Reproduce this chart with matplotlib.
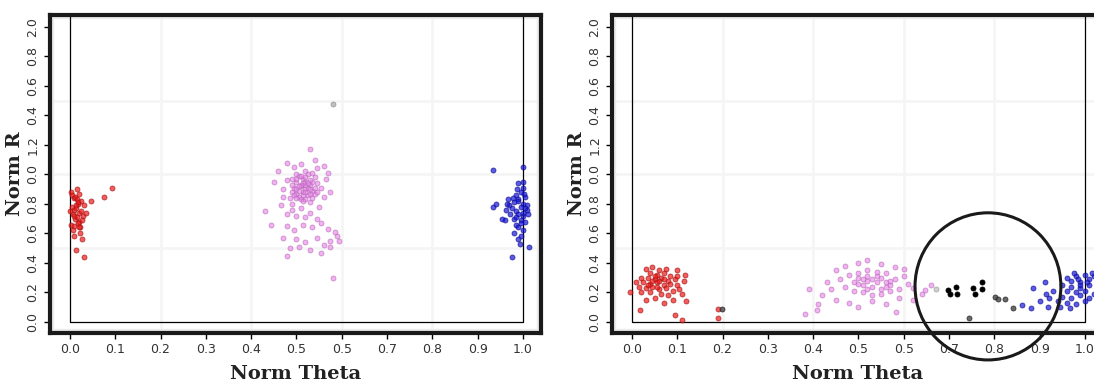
import matplotlib
matplotlib.use('Agg')
import matplotlib.pyplot as plt
from matplotlib.patches import Ellipse, Rectangle

# Tick labels as printed in the figure
x_ticks = [0.0, 0.1, 0.2, 0.3, 0.4, 0.5, 0.6, 0.7, 0.8, 0.9, 1.0]
x_labels = ['0.0', '0.1', '0.2', '0.3', '0.4', '0.5', '0.5', '0.7', '0.8', '0.9', '1.0']
y_ticks = [0.0, 0.2, 0.4, 0.6, 0.8, 1.0, 1.2, 1.4, 1.6, 1.8, 2.0]
y_labels = ['0.0', '0.2', '0.4', '0.6', '0.8', '0.0', '1.2', '0.4', '0.6', '0.8', '2.0']

# Left panel
red_l_x = [0.002, 0.005, 0.008, 0.012, 0.015, 0.018, 0.02, 0.025, 0.03, 0.004, 0.009, 0.014, 0.019, 0.024,
           0.028, 0.006, 0.011, 0.016, 0.021, 0.026, 0.003, 0.01, 0.017, 0.022, 0.007, 0.013, 0.018, 0.001,
           0.008, 0.015, 0.092, 0.076, 0.046, 0.035, 0.026, 0.009, 0.013, 0.031, 0.022, 0.02]
red_l_y = [0.88, 0.86, 0.84, 0.85, 0.83, 0.8, 0.87, 0.82, 0.79, 0.78, 0.76, 0.77, 0.74, 0.75,
           0.72, 0.73, 0.7, 0.71, 0.68, 0.69, 0.66, 0.65, 0.67, 0.64, 0.62, 0.79, 0.81, 0.75,
           0.72, 0.9, 0.91, 0.85, 0.82, 0.74, 0.56, 0.585, 0.49, 0.44, 0.6, 0.64]

pink_l_x = [0.51, 0.50, 0.52, 0.53, 0.49, 0.505, 0.515, 0.525, 0.495, 0.535,
            0.50, 0.52, 0.54, 0.48, 0.51, 0.53, 0.49, 0.545, 0.47, 0.555,
            0.50, 0.52, 0.515, 0.505, 0.535, 0.485, 0.525, 0.545, 0.495, 0.51,
            0.54, 0.53, 0.56, 0.48, 0.46, 0.45, 0.565, 0.57, 0.47, 0.465,
            0.49, 0.51, 0.53, 0.55, 0.52, 0.50, 0.48, 0.545, 0.56, 0.575,
            0.43, 0.445, 0.48, 0.495, 0.515, 0.535, 0.555, 0.57, 0.585, 0.50,
            0.52, 0.545, 0.56, 0.575, 0.59, 0.47, 0.485, 0.505, 0.53, 0.555,
            0.575, 0.595, 0.48, 0.52, 0.50, 0.515, 0.53, 0.54, 0.49, 0.52, 0.58,
            0.505, 0.525, 0.515, 0.535, 0.50, 0.52, 0.51, 0.53, 0.495, 0.54,
            0.515, 0.505, 0.525, 0.51, 0.52, 0.50, 0.53, 0.545, 0.49, 0.535]
pink_l_y = [0.92, 0.95, 0.90, 0.93, 0.88, 0.85, 0.97, 0.86, 0.91, 0.89,
            1.00, 1.02, 0.98, 0.96, 0.83, 0.81, 0.80, 0.94, 0.90, 0.91,
            0.87, 0.95, 0.88, 0.99, 0.84, 0.84, 1.00, 1.04, 1.05, 1.07,
            1.10, 1.17, 1.06, 1.08, 1.02, 0.95, 0.97, 1.01, 0.85, 0.79,
            0.76, 0.77, 0.74, 0.78, 0.71, 0.72, 0.73, 0.70, 0.85, 0.88,
            0.75, 0.66, 0.65, 0.62, 0.66, 0.64, 0.67, 0.63, 0.61, 0.56,
            0.54, 0.57, 0.52, 0.55, 0.58, 0.57, 0.50, 0.51, 0.49, 0.47,
            0.51, 0.55, 0.45, 0.93, 0.90, 0.94, 0.87, 0.91, 0.93, 0.83, 0.30,
            0.89, 0.91, 0.86, 0.95, 0.97, 0.88, 0.93, 0.96, 0.86, 0.87,
            0.82, 0.92, 0.94, 0.99, 0.98, 0.84, 0.90, 0.88, 0.97, 1.01]

blue_l_x = [0.99, 1.0, 0.995, 0.985, 1.005, 0.99, 0.98, 1.0, 0.995, 0.975, 1.008, 0.985, 0.99, 1.0,
            0.98, 0.995, 1.005, 0.985, 0.99, 1.0, 0.98, 0.995, 0.99, 1.002, 0.978, 1.01, 0.97, 1.012,
            0.972, 0.988, 1.0, 0.965, 0.962, 0.934, 1.0, 0.967, 0.934, 0.94, 0.96, 0.955, 0.977,
            1.013, 0.993, 0.99, 1.0, 0.985, 0.995, 1.005]
blue_l_y = [0.94, 0.91, 0.88, 0.86, 0.85, 0.83, 0.81, 0.80, 0.78, 0.77, 0.76, 0.75, 0.73, 0.72,
            0.70, 0.69, 0.68, 0.66, 0.64, 0.62, 0.60, 0.58, 0.56, 0.87, 0.84, 0.79, 0.79, 0.73,
            0.73, 0.90, 0.95, 0.80, 0.76, 1.03, 1.05, 0.83, 0.78, 0.80, 0.69, 0.70, 0.44,
            0.51, 0.53, 0.82, 0.74, 0.71, 0.67, 0.77]

gray_l_x = [0.58]
gray_l_y = [1.48]

# Right panel
red_r_x = [0.03, 0.045, 0.06, 0.075, 0.04, 0.055, 0.07, 0.085, 0.02, 0.035, 0.05, 0.065, 0.08, 0.095,
           0.025, 0.04, 0.055, 0.07, 0.085, 0.1, 0.015, 0.03, 0.045, 0.06, 0.075, 0.09, 0.105, 0.02,
           0.04, 0.065, 0.08, 0.05, 0.06, 0.045, 0.07, 0.035, 0.055, 0.01, 0.115, 0.1,
           -0.004, 0.018, 0.095, 0.11, 0.19, 0.19, 0.12, 0.099, 0.117, 0.05, 0.07, 0.09, 0.03, 0.11]
red_r_y = [0.36, 0.37, 0.35, 0.36, 0.33, 0.32, 0.33, 0.31, 0.30, 0.30, 0.29, 0.30, 0.28, 0.29,
           0.27, 0.26, 0.27, 0.25, 0.26, 0.25, 0.24, 0.23, 0.24, 0.22, 0.23, 0.21, 0.22, 0.20,
           0.20, 0.19, 0.18, 0.31, 0.28, 0.28, 0.29, 0.25, 0.24, 0.27, 0.28, 0.31,
           0.205, 0.08, 0.05, 0.015, 0.09, 0.03, 0.14, 0.35, 0.32, 0.16, 0.13, 0.15, 0.15, 0.19]

pink_r_x = [0.5, 0.52, 0.54, 0.56, 0.51, 0.53, 0.55, 0.57, 0.49, 0.58, 0.5, 0.52, 0.54, 0.56, 0.48,
            0.6, 0.47, 0.49, 0.51, 0.53, 0.55, 0.57, 0.59, 0.61, 0.62, 0.46, 0.45, 0.47, 0.5, 0.52,
            0.55, 0.58, 0.6, 0.44, 0.43, 0.42, 0.45, 0.48, 0.5, 0.53, 0.56, 0.59, 0.62, 0.64, 0.41,
            0.39, 0.382, 0.408, 0.584, 0.647, 0.66, 0.52, 0.54, 0.53, 0.55, 0.51, 0.57, 0.5, 0.52, 0.56]
pink_r_y = [0.30, 0.28, 0.31, 0.27, 0.25, 0.24, 0.22, 0.25, 0.27, 0.29, 0.33, 0.35, 0.34, 0.33, 0.32,
            0.31, 0.24, 0.21, 0.20, 0.18, 0.19, 0.21, 0.22, 0.26, 0.23, 0.29, 0.35, 0.38, 0.40, 0.42,
            0.39, 0.37, 0.36, 0.22, 0.27, 0.18, 0.15, 0.13, 0.10, 0.14, 0.12, 0.16, 0.15, 0.19, 0.12,
            0.22, 0.054, 0.08, 0.07, 0.217, 0.25, 0.31, 0.27, 0.29, 0.30, 0.29, 0.28, 0.26, 0.22, 0.24]

black_r_x = [0.698, 0.702, 0.715, 0.717, 0.753, 0.757, 0.772, 0.773]
black_r_y = [0.217, 0.19, 0.24, 0.19, 0.23, 0.19, 0.27, 0.22]

dgray_r_x = [0.801, 0.809, 0.823, 0.842, 0.744, 0.199]
dgray_r_y = [0.17, 0.156, 0.154, 0.093, 0.03, 0.09]

lgray_r_x = [0.672]
lgray_r_y = [0.22]

blue_r_x = [0.96, 0.98, 1.0, 1.02, 0.97, 0.99, 1.01, 1.03, 0.95, 0.97, 0.99, 1.01, 1.03, 0.96, 0.98,
            1.0, 1.02, 0.95, 0.97, 0.99, 1.01, 0.94, 0.96, 0.98, 1.0, 0.985, 1.005, 0.975, 1.015, 0.99,
            0.886, 0.912, 0.915, 0.861, 0.882, 0.90, 0.919, 0.945, 0.967, 0.93, 0.92]
blue_r_y = [0.30, 0.31, 0.32, 0.31, 0.28, 0.27, 0.29, 0.28, 0.25, 0.24, 0.23, 0.25, 0.24, 0.21, 0.20,
            0.21, 0.19, 0.17, 0.16, 0.18, 0.16, 0.14, 0.13, 0.12, 0.14, 0.29, 0.27, 0.33, 0.33, 0.25,
            0.23, 0.27, 0.19, 0.115, 0.093, 0.14, 0.104, 0.104, 0.093, 0.21, 0.16]

RED = '#f01818'
PINK = '#e680e6'
BLUE = '#1515d8'

fig = plt.figure(figsize=(10.94, 3.87), dpi=100)
W, H = 1094, 387
ax1 = fig.add_axes([50 / W, 54 / H, 491 / W, 318 / H])
ax2 = fig.add_axes([612 / W, 54 / H, 491 / W, 318 / H])


def style(ax):
    ax.set_xlim(-0.044, 1.04)
    ax.set_ylim(-0.075, 2.08)
    for gx in [0.2, 0.4, 0.6, 0.8]:
        ax.axvline(gx, color='#f5f5f5', lw=2, zorder=0)
    for gy in [0.5, 1.0, 1.5]:
        ax.axhline(gy, color='#f5f5f5', lw=2, zorder=0)
    ax.add_patch(Rectangle((0, 0), 1, 1, transform=ax.transAxes, fill=False,
                           edgecolor='#ebebeb', lw=6, zorder=1))
    ax.plot([0, 0, 1, 1], [2.08, 0, 0, 2.08], color='black', lw=0.9, zorder=2)
    for s in ax.spines.values():
        s.set_linewidth(3)
        s.set_color('#1a1a1a')
    ax.set_xticks(x_ticks)
    ax.set_xticklabels(x_labels, fontsize=9, color='#333333')
    ax.set_yticks(y_ticks)
    ax.set_yticklabels(y_labels, fontsize=9, color='#333333', rotation=90, va='center')
    ax.tick_params(direction='out', length=4, width=1)
    ax.set_xlabel('Norm Theta', fontsize=14, fontweight='bold', family='DejaVu Serif',
                  color='#222222', labelpad=6)
    ax.set_ylabel('Norm R', fontsize=14, fontweight='bold', family='DejaVu Serif',
                  color='#222222', labelpad=2)


def dots(ax, x, y, c, ec, a=0.7):
    ax.scatter(x, y, s=13, c=c, edgecolors=ec, linewidths=0.6, alpha=a, zorder=3)


style(ax1)
dots(ax1, red_l_x, red_l_y, RED, '#a01010')
dots(ax1, pink_l_x, pink_l_y, PINK, '#b060b0', 0.6)
dots(ax1, blue_l_x, blue_l_y, BLUE, '#0a0a90')
dots(ax1, gray_l_x, gray_l_y, '#999999', '#777777', 0.6)

style(ax2)
dots(ax2, red_r_x, red_r_y, RED, '#a01010')
dots(ax2, pink_r_x, pink_r_y, PINK, '#b060b0', 0.6)
dots(ax2, blue_r_x, blue_r_y, BLUE, '#0a0a90')
dots(ax2, black_r_x, black_r_y, 'black', 'black', 1.0)
dots(ax2, dgray_r_x, dgray_r_y, '#444444', '#222222', 0.8)
dots(ax2, lgray_r_x, lgray_r_y, '#bbbbbb', '#999999', 0.7)

ax2.add_patch(Ellipse((0.786, 0.241), 0.322, 0.997, fill=False, edgecolor='#1a1a1a',
                      lw=2.2, clip_on=False, zorder=4))

fig.savefig('out.png', dpi=100)
